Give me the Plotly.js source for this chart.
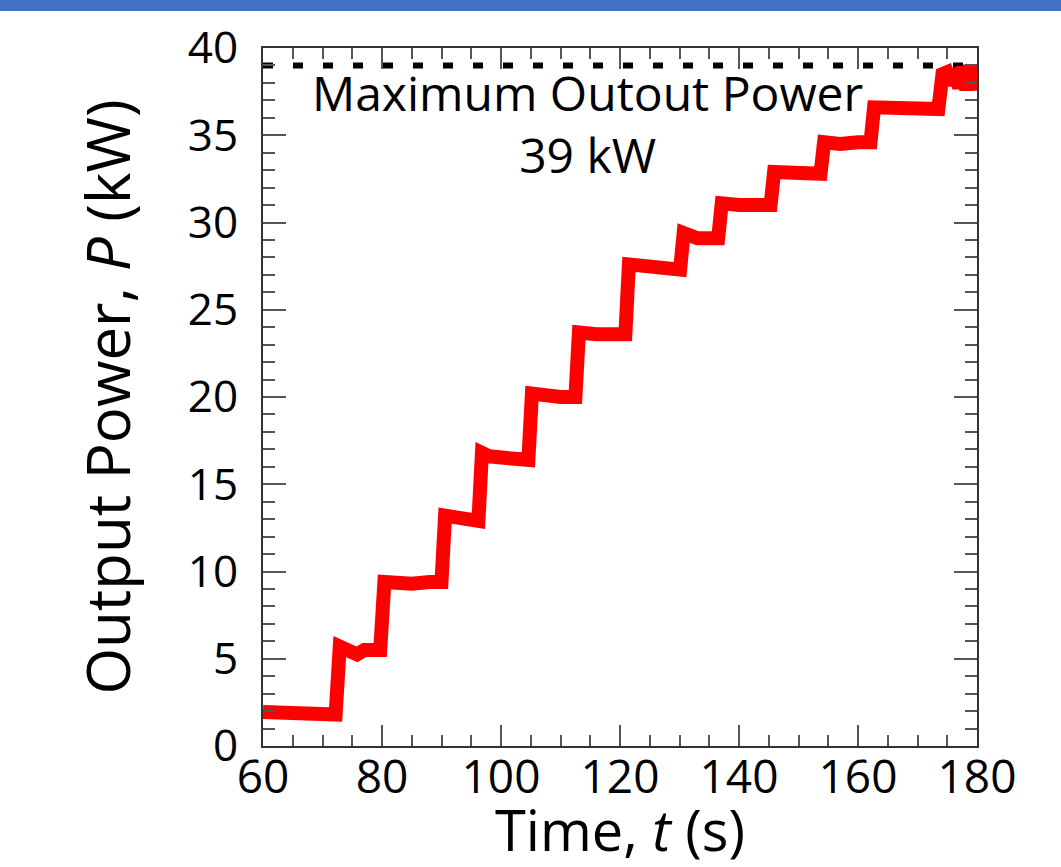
<!DOCTYPE html>
<html>
<head>
<meta charset="utf-8">
<script src="https://cdn.plot.ly/plotly-3.0.1.min.js"></script>
<style>html,body{margin:0;padding:0;background:#fff;}#chart{width:1061px;height:867px;}</style>
</head>
<body>
<div id="chart"></div>
<script>
// Measured output power (kW) vs time (s)
const time = [60, 64, 68, 72.2, 72.9, 74, 75.8, 77, 79.7, 80.4, 82, 85, 88, 90.0, 90.6, 92, 94, 96.2, 96.8, 98, 101, 104.6, 105.2, 107, 110, 112.5, 113.1, 116, 118, 120.9, 121.5, 124, 127, 130.1, 130.7, 133, 136.5, 137.1, 140, 143, 145.3, 145.9, 149, 153.7, 154.3, 157, 160, 162.1, 162.7, 166, 170, 173.5, 174.2, 174.9, 175.6, 176.3, 177.0, 177.6, 178.2, 178.8, 179.3, 179.8, 180];
const power = [1.95, 1.85, 1.8, 1.8, 5.7, 5.5, 5.25, 5.5, 5.5, 9.4, 9.3, 9.3, 9.4, 9.4, 13.2, 13.1, 13.0, 12.9, 16.8, 16.6, 16.5, 16.4, 20.2, 20.1, 20.0, 20.0, 23.7, 23.6, 23.6, 23.6, 27.6, 27.5, 27.4, 27.3, 29.4, 29.1, 29.1, 31.1, 31.0, 30.9, 31.0, 32.9, 32.8, 32.8, 34.6, 34.5, 34.6, 34.6, 36.6, 36.6, 36.5, 36.5, 38.5, 38.6, 37.9, 38.8, 37.7, 38.9, 37.6, 39.0, 37.6, 38.9, 37.8, 38.3];
const maxTime = [60, 180];
const maxPower = [39, 39];
const annText = "Maximum Outout Power<br>39 kW";
const annX = 114.5, annY = 35.7;

const FONT = "Open Sans, sans-serif";

const traces = [
  {x: maxTime, y: maxPower, mode: 'lines', line: {color: '#000', width: 6, dash: '10px,20px'}, hoverinfo: 'skip', showlegend: false},
  {x: time, y: power, mode: 'lines', line: {color: '#ff0000', width: 14}, showlegend: false}
];

const layout = {
  width: 1061, height: 867,
  margin: {l: 263, r: 84, t: 48, b: 121},
  paper_bgcolor: '#fff', plot_bgcolor: '#fff',
  font: {family: FONT, color: '#000'},
  showlegend: false,
  xaxis: {
    range: [60, 180], dtick: 20, tick0: 60,
    ticks: 'inside', ticklen: 21, tickwidth: 2, tickcolor: '#555',
    minor: {dtick: 5, ticks: 'inside', ticklen: 11, tickwidth: 2, tickcolor: '#555'},
    showline: true, linecolor: '#333', linewidth: 2, mirror: 'ticks',
    showgrid: false, zeroline: false,
    tickfont: {family: FONT, size: 46, color: '#000'},
    ticklabelstandoff: -10,
    title: {text: 'Time, <i>t</i> (s)', font: {family: FONT, size: 56, color: '#000'}, standoff: 12}
  },
  yaxis: {
    range: [0, 40], dtick: 5, tick0: 0,
    ticks: 'inside', ticklen: 23, tickwidth: 2, tickcolor: '#555',
    minor: {dtick: 1, ticks: 'inside', ticklen: 12, tickwidth: 2, tickcolor: '#555'},
    showline: true, linecolor: '#333', linewidth: 2, mirror: 'ticks',
    showgrid: false, zeroline: false,
    tickfont: {family: FONT, size: 44, color: '#000'},
    ticklabelstandoff: 14,
    title: {text: 'Output Power, <i>P</i> (kW)', font: {family: FONT, size: 60, color: '#000'}, standoff: 38}
  },
  annotations: [{
    x: annX, y: annY, xref: 'x', yref: 'y', text: annText, showarrow: false,
    align: 'center', font: {family: FONT, size: 48, color: '#000'}
  }],
  shapes: [{
    type: 'rect', xref: 'paper', yref: 'paper',
    x0: -263/714, x1: 1 + 84/714, y0: (746-11)/698, y1: 746/698,
    fillcolor: '#4472C4', line: {width: 0}, layer: 'above'
  }]
};

Plotly.newPlot('chart', traces, layout, {displayModeBar: false, staticPlot: true});
</script>
</body>
</html>
